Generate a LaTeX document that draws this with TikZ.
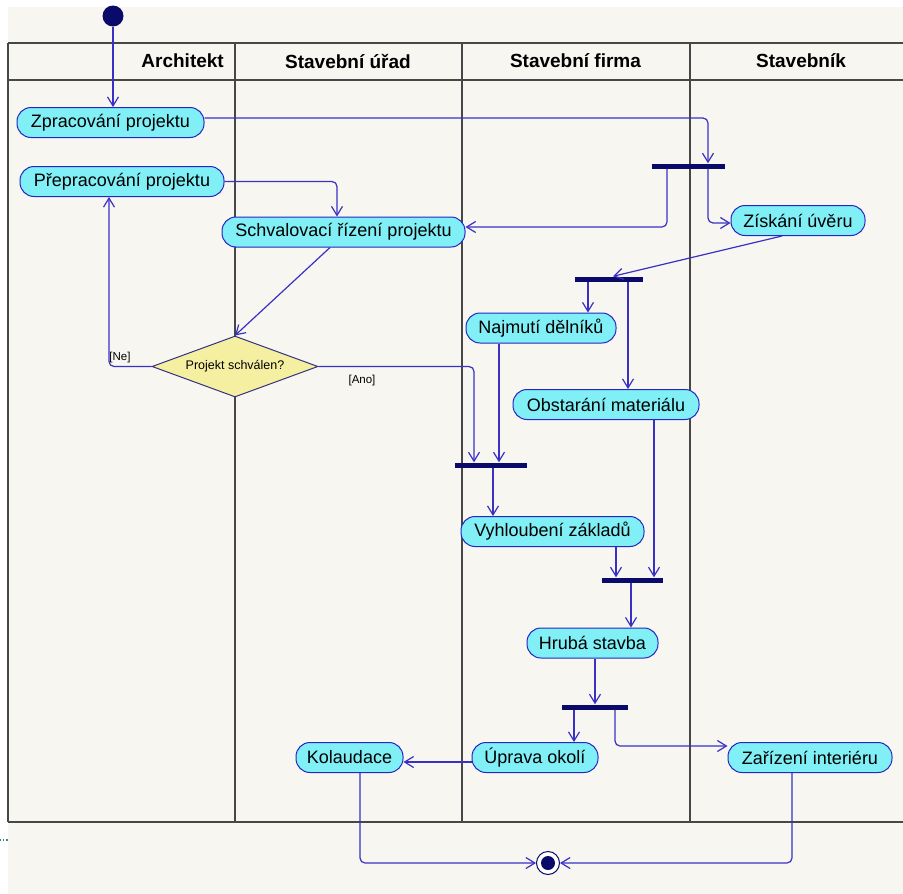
\documentclass[tikz,border=0pt]{standalone}
\usepackage{fontspec}
\setmainfont{Liberation Sans}
\usetikzlibrary{arrows.meta,shapes.geometric}

\definecolor{paper}{HTML}{F7F6F0}
\definecolor{laneline}{HTML}{474747}
\definecolor{actfill}{HTML}{80EFF6}
\definecolor{actedge}{HTML}{2626C4}
\definecolor{flowc}{HTML}{3A30C4}
\definecolor{navy}{HTML}{0A0A6A}
\definecolor{decfill}{HTML}{F5EFA2}
\definecolor{decedge}{HTML}{34347E}
\definecolor{dotc}{HTML}{3A8A8A}

\tikzset{
  lane/.style={draw=laneline, line width=1.2pt},
  lanehead/.style={font=\fontsize{19}{21}\selectfont\bfseries, inner sep=0pt},
  act/.style={draw=actedge, fill=actfill, line width=1pt, rounded corners=14pt,
    minimum height=30pt, inner sep=0pt, font=\fontsize{18}{20}\selectfont},
  decision/.style={diamond, aspect=2.7, draw=decedge, fill=decfill, line width=1pt,
    minimum width=166pt, minimum height=61pt, inner sep=0pt,
    font=\fontsize{12.5}{14}\selectfont},
  guard/.style={font=\fontsize{11.5}{13}\selectfont, inner sep=0pt},
  joinbar/.style={fill=navy, minimum height=5pt, inner sep=0pt, draw=none},
  startdot/.style={circle, fill=navy, minimum size=21pt, inner sep=0pt},
  endring/.style={circle, draw=navy, fill=white, line width=1pt, minimum size=23pt, inner sep=0pt},
  flow/.style={draw=flowc, line width=1.2pt, rounded corners=5pt,
    -{Straight Barb[length=9pt,width=11pt]}},
}

\begin{document}
\begin{tikzpicture}[x=1pt,y=-1pt]
\useasboundingbox (0,0) rectangle (903,894);
\fill[white] (0,0) rectangle (903,894);
\fill[paper] (8,7) rectangle (903,894);
\draw[dotc, dotted, line width=1.2pt] (0,840) -- (8,840);

% swimlane frame
\draw[lane] (8,43) -- (903,43);
\draw[lane] (8,80) -- (903,80);
\draw[lane] (8,43) -- (8,822);
\draw[lane] (235,43) -- (235,822);
\draw[lane] (462,43) -- (462,822);
\draw[lane] (690,43) -- (690,822);
\draw[lane, line width=2pt] (8,822) -- (903,822);

% lane titles
\node[lanehead, anchor=east] (h1) at (224,61) {Architekt};
\node[lanehead] (h2) at (348,61) {Stavební úřad};
\node[lanehead] (h3) at (575.5,61) {Stavební firma};
\node[lanehead] (h4) at (801,61) {Stavebník};

% activities
\node[startdot] (start) at (113,16) {};
\node[act, minimum width=187pt] (zp) at (110.5,122.5) {Zpracování projektu};
\node[act, minimum width=204pt] (prep) at (122,181.5) {Přepracování projektu};
\node[act, minimum width=243pt] (sch) at (343.5,232) {Schvalovací řízení projektu};
\node[decision] (dia) at (235,366.5) {Projekt schválen?};
\node[act, minimum width=134pt] (ziu) at (798,220.5) {Získání úvěru};
\node[act, minimum width=150pt] (naj) at (541,328) {Najmutí dělníků};
\node[act, minimum width=186pt] (obs) at (606,404.5) {Obstarání materiálu};
\node[act, minimum width=183pt] (vyh) at (552.5,531.5) {Vyhloubení základů};
\node[act, minimum width=131pt] (hru) at (592.5,643) {Hrubá stavba};
\node[act, minimum width=107pt] (kol) at (349.5,757.5) {Kolaudace};
\node[act, minimum width=126pt] (upr) at (535,757.5) {Úprava okolí};
\node[act, minimum width=164pt] (zar) at (810,757.5) {Zařízení interiéru};
\node[endring] (end) at (548,863) {};
\fill[navy] (end.center) circle (7pt);

% fork / join bars
\node[joinbar, minimum width=73pt] (b1) at (688.5,166) {};
\node[joinbar, minimum width=68pt] (b2) at (609,279) {};
\node[joinbar, minimum width=72pt] (b3) at (491,465) {};
\node[joinbar, minimum width=61pt] (b4) at (632.5,580) {};
\node[joinbar, minimum width=66pt] (b5) at (595,707) {};

% guards
\node[guard] (gne) at (120,358) {[Ne]};
\node[guard] (gano) at (362,381) {[Ano]};

% control flow
\draw[flow] (start.south) -- (zp.north -| start.south);
\draw[flow] (zp.east |- 0,118) -| (b1.north -| 708,0);
\draw[flow] (b1.south -| 667,0) |- (sch.east |- 0,227);
\draw[flow] (b1.south -| 708,0) |- (ziu.west |- 0,223);
\draw[flow] (prep.east) -| (sch.north -| 337,0);
\draw[flow] (sch.south -| 330,0) -- (dia.north);
\draw[flow] (dia.west) -| (prep.south -| 109,0);
\draw[flow] (dia.east) -| (b3.north -| 474,0);
\draw[flow] (ziu.south -| 782,0) -- (b2.north -| 613,0);
\draw[flow] (b2.south -| 588,0) -- (naj.north -| 588,0);
\draw[flow] (b2.south -| 628,0) -- (obs.north -| 628,0);
\draw[flow] (naj.south -| 499,0) -- (b3.north -| 499,0);
\draw[flow] (obs.south -| 654,0) -- (b4.north -| 654,0);
\draw[flow] (b3.south -| 493,0) -- (vyh.north -| 493,0);
\draw[flow] (vyh.south -| 616,0) -- (b4.north -| 616,0);
\draw[flow] (b4.south -| 631,0) -- (hru.north -| 631,0);
\draw[flow] (hru.south -| 595,0) -- (b5.north -| 595,0);
\draw[flow] (b5.south -| 574,0) -- (upr.north -| 574,0);
\draw[flow] (b5.south -| 615,0) |- (zar.west |- 0,746);
\draw[flow] (upr.west |- 0,762) -- (kol.east |- 0,762);
\draw[flow] (kol.south -| 360,0) |- (end.west);
\draw[flow] (zar.south -| 792,0) |- (end.east);
\end{tikzpicture}
\end{document}
